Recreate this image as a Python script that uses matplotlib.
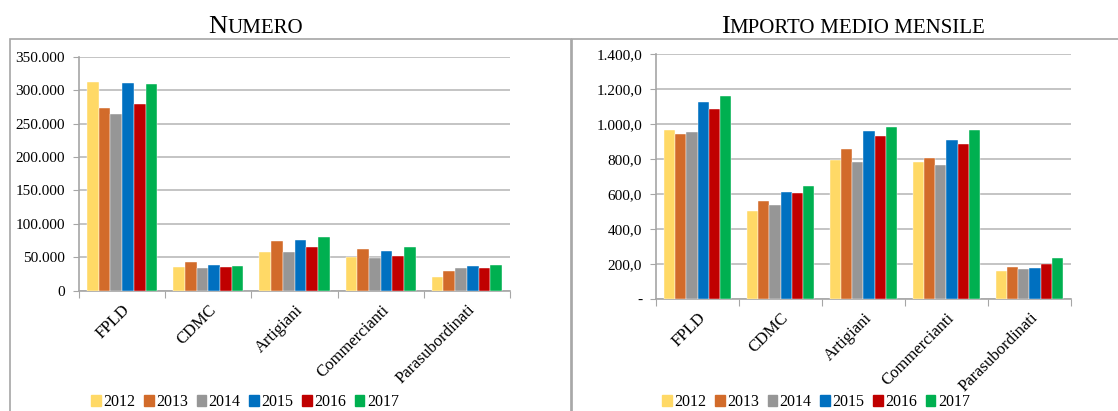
import matplotlib.pyplot as plt
import numpy as np
from matplotlib.patches import Rectangle, Patch
from matplotlib.ticker import FuncFormatter

plt.rcParams['font.family'] = ['Liberation Serif', 'DejaVu Serif']

categories = ["FPLD", "CDMC", "Artigiani", "Commercianti", "Parasubordinati"]
years = ["2012", "2013", "2014", "2015", "2016", "2017"]
colors = ["#FFD966", "#D26B2A", "#969696", "#0070C0", "#C00000", "#00B050"]

# numero per categoria (righe = anni)
numero = [
    [312000, 36000, 58000, 50000, 20000],
    [273000, 43000, 74000, 62000, 30000],
    [264000, 34000, 57500, 49000, 34000],
    [311000, 38000, 76000, 59000, 37000],
    [279000, 35000, 66000, 52000, 34000],
    [309000, 37000, 80000, 65000, 38000],
]
# importo medio mensile
importo = [
    [969, 504, 795, 784, 162],
    [942, 559, 860, 807, 185],
    [957, 536, 784, 769, 174],
    [1127, 614, 959, 908, 177],
    [1089, 605, 931, 887, 200],
    [1162, 645, 986, 969, 233],
]


def fmt_num(v, pos):
    return "{:,.0f}".format(v).replace(",", ".")


def fmt_imp(v, pos):
    if abs(v) < 1e-9:
        return "-"
    s = "{:,.1f}".format(v)
    return s.replace(",", "X").replace(".", ",").replace("X", ".")


def draw(ax, data, ymax, step, fmt):
    x = np.arange(len(categories))
    w = 0.136
    for i, y in enumerate(years):
        ax.bar(x + (i - 2.5) * w, data[i], width=w, color=colors[i],
               edgecolor="white", linewidth=0.3, zorder=3)
    ax.set_xlim(-0.5, len(categories) - 0.5)
    ax.set_ylim(0, ymax)
    ax.set_yticks(np.arange(0, ymax + step / 2, step))
    ax.yaxis.set_major_formatter(FuncFormatter(fmt))
    ax.grid(axis="y", color="#BFBFBF", linewidth=1.3, zorder=0)
    for s in ["top", "right"]:
        ax.spines[s].set_visible(False)
    for s in ["left", "bottom"]:
        ax.spines[s].set_color("#A6A6A6")
        ax.spines[s].set_linewidth(1.2)
    ax.set_xticks(np.arange(-0.5, len(categories), 1.0))
    ax.set_xticklabels([])
    ax.set_xticks(x, minor=True)
    ax.set_xticklabels(categories, minor=True, rotation=45, ha="right",
                       rotation_mode="anchor", fontsize=12)
    ax.tick_params(axis="x", which="major", length=5, color="#A6A6A6")
    ax.tick_params(axis="x", which="minor", length=0, pad=8)
    ax.tick_params(axis="y", length=4, color="#A6A6A6", labelsize=11, pad=6)


fig = plt.figure(figsize=(11.18, 4.11), dpi=100)

fig.patches.append(Rectangle((10 / 1118, -0.01), 561 / 1118, 1 - 39 / 411 + 0.01,
                             transform=fig.transFigure, fill=False,
                             edgecolor="#A6A6A6", linewidth=1.2))
fig.patches.append(Rectangle((572 / 1118, -0.01), 560 / 1118, 1 - 39 / 411 + 0.01,
                             transform=fig.transFigure, fill=False,
                             edgecolor="#A6A6A6", linewidth=1.2))

ax1 = fig.add_axes([79 / 1118, 1 - 290.7 / 411, 431 / 1118, 234 / 411])
ax2 = fig.add_axes([656 / 1118, 1 - 299 / 411, 415 / 1118, 244.7 / 411])

draw(ax1, numero, 350000, 50000, fmt_num)
draw(ax2, importo, 1400, 200, fmt_imp)


def small_caps(x, y, text):
    # testo in maiuscoletto: prima lettera grande, resto piccolo
    pieces = []
    for k, word in enumerate(text.split(" ")):
        if k == 0:
            pieces.append((word[0], 19))
            pieces.append((word[1:], 15))
        else:
            pieces.append((" " + word, 15))
    r = fig.canvas.get_renderer()
    objs = [fig.text(0, y, s, fontsize=size, va="baseline", ha="left")
            for s, size in pieces]
    widths = [o.get_window_extent(r).width for o in objs]
    cur = x * fig.bbox.width - sum(widths) / 2
    for o, wd in zip(objs, widths):
        o.set_x(cur / fig.bbox.width)
        cur += wd


small_caps(256 / 1118, 1 - 33 / 411, "NUMERO")
small_caps(853 / 1118, 1 - 33 / 411, "IMPORTO MEDIO MENSILE")

handles = [Patch(color=c) for c in colors]
for cx in (245, 816):
    fig.legend(handles, years, loc="center", bbox_to_anchor=(cx / 1118, 1 - 402 / 411),
               ncol=6, frameon=False, fontsize=11.5, handlelength=0.6,
               handleheight=0.7, handletextpad=0.15, columnspacing=0.55)

fig.savefig("out.png", dpi=100)
